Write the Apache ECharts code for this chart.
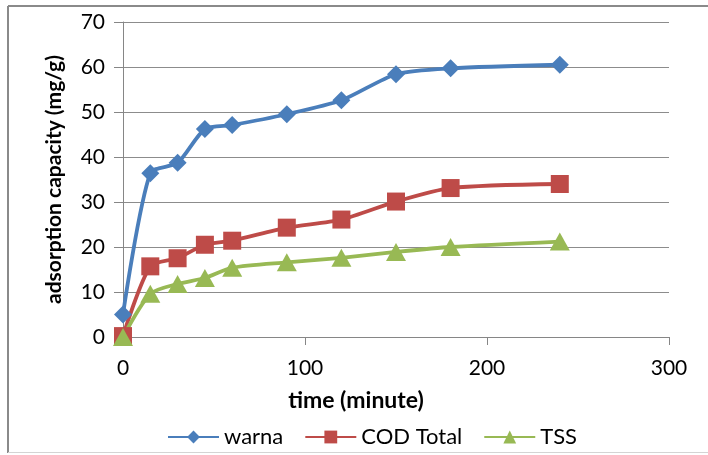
<!DOCTYPE html>
<html><head><meta charset="utf-8">
<script src="https://cdn.jsdelivr.net/npm/echarts@6/dist/echarts.min.js"></script>
<style>html,body{margin:0;padding:0;background:#fff}#c{width:708px;height:455px}</style>
</head><body><div id="c"></div>
<script>
const time = [0, 15, 30, 45, 60, 90, 120, 150, 180, 240];
const warna = [5.0, 36.4, 38.7, 46.2, 47.1, 49.5, 52.6, 58.4, 59.7, 60.5];
const codTotal = [0.2, 15.7, 17.5, 20.5, 21.4, 24.3, 26.1, 30.1, 33.1, 34.0];
const tss = [0.0, 9.6, 11.8, 13.1, 15.4, 16.6, 17.6, 18.9, 20.0, 21.2];
const xTicks = [0, 100, 200, 300];
const yTicks = [0, 10, 20, 30, 40, 50, 60, 70];

const font = 'Lato';
const pair = a => time.map((t, i) => [t, a[i]]);
const chart = echarts.init(document.getElementById('c'), null, {renderer: 'canvas'});
chart.setOption({
  animation: false,
  backgroundColor: '#fff',
  grid: {left: 123, right: 39, top: 22, bottom: 118, containLabel: false},
  graphic: [
    {type: 'line', shape: {x1: 8, y1: 6, x2: 708, y2: 6}, style: {stroke: '#8a8a8a', lineWidth: 2}},
    {type: 'line', shape: {x1: 8, y1: 6, x2: 8, y2: 453}, style: {stroke: '#8a8a8a', lineWidth: 2}},
    {type: 'line', shape: {x1: 8, y1: 452.5, x2: 708, y2: 452.5}, style: {stroke: '#d4d4d4', lineWidth: 1}}
  ],
  xAxis: {
    type: 'value', min: xTicks[0], max: xTicks[xTicks.length - 1], interval: 100,
    name: 'time (minute)', nameLocation: 'middle', nameGap: 52,
    nameTextStyle: {fontFamily: font, fontWeight: 'bold', fontSize: 23, color: '#000', padding: [0, 80, 0, 0]},
    axisLine: {show: true, lineStyle: {color: '#868686', width: 1}},
    axisTick: {show: true, length: 8, lineStyle: {color: '#868686'}},
    axisLabel: {fontFamily: font, fontSize: 21, color: '#000', margin: 21},
    splitLine: {show: false}
  },
  yAxis: {
    type: 'value', min: yTicks[0], max: yTicks[yTicks.length - 1], interval: 10,
    name: 'adsorption capacity (mg/g)', nameLocation: 'middle', nameGap: 58, nameRotate: 90,
    nameTextStyle: {fontFamily: font, fontWeight: 'bold', fontSize: 21, color: '#000'},
    axisLine: {show: true, lineStyle: {color: '#868686', width: 1}},
    axisTick: {show: true, length: 9, lineStyle: {color: '#868686'}},
    axisLabel: {fontFamily: font, fontSize: 21, color: '#000', margin: 18},
    splitLine: {show: true, lineStyle: {color: '#8c8c8c', width: 1}}
  },
  legend: {
    left: 162, top: 421, itemWidth: 51, itemHeight: 16, itemGap: 21, itemTextGap: 4,
    textStyle: {fontFamily: font, fontSize: 22, color: '#000'},
    data: ['warna', 'COD Total', 'TSS']
  },
  series: [
    {name: 'warna', type: 'line', data: pair(warna), smooth: 0.25, symbol: 'diamond', symbolSize: 18,
     lineStyle: {color: '#4A7EBB', width: 3.8}, itemStyle: {color: '#4A7EBB'}},
    {name: 'COD Total', type: 'line', data: pair(codTotal), smooth: 0.25, symbol: 'rect', symbolSize: 18,
     lineStyle: {color: '#BE4B48', width: 3.8}, itemStyle: {color: '#BE4B48'}},
    {name: 'TSS', type: 'line', data: pair(tss), smooth: 0.25, symbol: 'triangle', symbolSize: [20, 18],
     lineStyle: {color: '#98B954', width: 3.8}, itemStyle: {color: '#98B954'}}
  ]
});
</script></body></html>
